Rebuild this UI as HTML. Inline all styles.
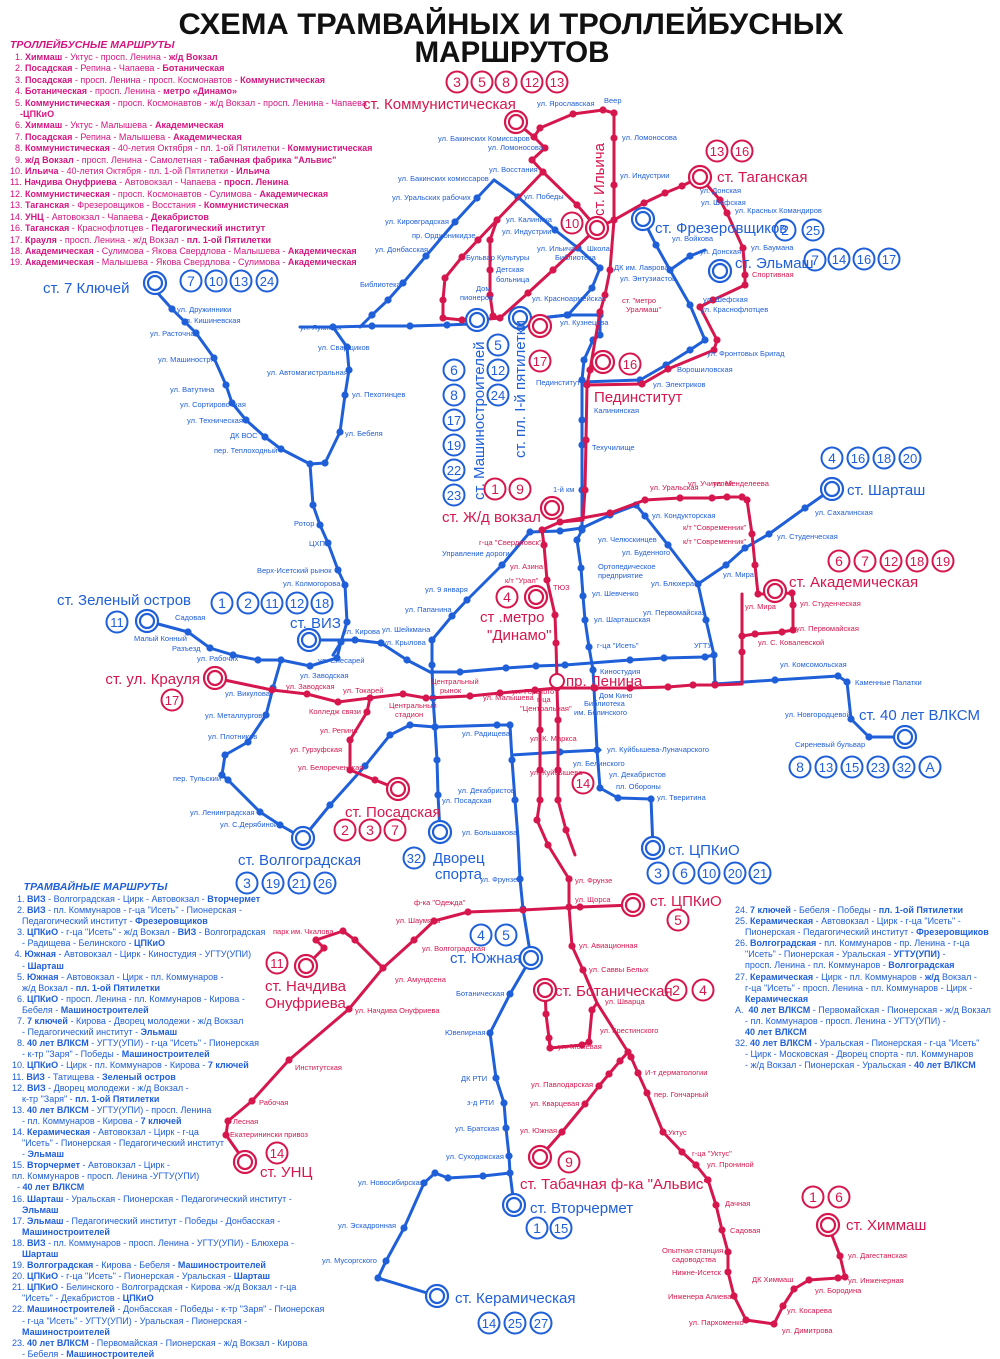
<!DOCTYPE html>
<html><head><meta charset="utf-8">
<style>
html,body{margin:0;padding:0;background:#fff;}
#w{position:relative;width:1000px;height:1359px;overflow:hidden;background:#fff;font-family:"Liberation Sans Narrow","Liberation Sans",sans-serif;}
.lg{position:absolute;font-size:9px;line-height:11.1px;white-space:nowrap;}
.lg b{font-weight:bold;}
.m{color:#d41580;left:10px;top:38px;line-height:11.4px;}
.bl{color:#1f5fd8;left:12px;top:880px;}
.br{color:#1f5fd8;left:735px;top:905px;}
.hd{font-style:italic;font-weight:bold;font-size:10.5px;line-height:14px;}
</style></head><body><div id="w">
<svg id="s" width="1000" height="1359" viewBox="0 0 1000 1359" xmlns="http://www.w3.org/2000/svg" style="position:absolute;left:0;top:0">
<text x="511" y="34" text-anchor="middle" font-family="Liberation Sans" font-weight="bold" font-size="30" textLength="665" lengthAdjust="spacingAndGlyphs" fill="#111">СХЕМА ТРАМВАЙНЫХ И ТРОЛЛЕЙБУСНЫХ</text>
<text x="512" y="62" text-anchor="middle" font-family="Liberation Sans" font-weight="bold" font-size="30" textLength="195" lengthAdjust="spacingAndGlyphs" fill="#111">МАРШРУТОВ</text>
</svg>
<div class="lg m">
<div class="hd">ТРОЛЛЕЙБУСНЫЕ МАРШРУТЫ</div>
<div>&nbsp;&nbsp;1. <b>Химмаш</b> - Уктус - просп. Ленина - <b>ж/д Вокзал</b></div>
<div>&nbsp;&nbsp;2. <b>Посадская</b> - Репина - Чапаева - <b>Ботаническая</b></div>
<div>&nbsp;&nbsp;3. <b>Посадская</b> - просп. Ленина - просп. Космонавтов - <b>Коммунистическая</b></div>
<div>&nbsp;&nbsp;4. <b>Ботаническая</b> - просп. Ленина - <b>метро «Динамо»</b></div>
<div>&nbsp;&nbsp;5. <b>Коммунистическая</b> - просп. Космонавтов - ж/д Вокзал - просп. Ленина - Чапаева</div>
<div>&nbsp;&nbsp;&nbsp;&nbsp;<b>-ЦПКиО</b></div>
<div>&nbsp;&nbsp;6. <b>Химмаш</b> - Уктус - Малышева - <b>Академическая</b></div>
<div>&nbsp;&nbsp;7. <b>Посадская</b> - Репина - Малышева - <b>Академическая</b></div>
<div>&nbsp;&nbsp;8. <b>Коммунистическая</b> - 40-летия Октября - пл. 1-ой Пятилетки - <b>Коммунистическая</b></div>
<div>&nbsp;&nbsp;9. <b>ж/д Вокзал</b> - просп. Ленина - Самолетная - <b>табачная фабрика "Альвис"</b></div>
<div>10. <b>Ильича</b> - 40-летия Октября - пл. 1-ой Пятилетки - <b>Ильича</b></div>
<div>11. <b>Начдива Онуфриева</b> - Автовокзал - Чапаева - <b>просп. Ленина</b></div>
<div>12. <b>Коммунистическая</b> - просп. Космонавтов - Сулимова - <b>Академическая</b></div>
<div>13. <b>Таганская</b> - Фрезеровщиков - Восстания - <b>Коммунистическая</b></div>
<div>14. <b>УНЦ</b> - Автовокзал - Чапаева - <b>Декабристов</b></div>
<div>16. <b>Таганская</b> - Краснофлотцев - <b>Педагогический институт</b></div>
<div>17. <b>Крауля</b> - просп. Ленина - ж/д Вокзал - <b>пл. 1-ой Пятилетки</b></div>
<div>18. <b>Академическая</b> - Сулимова - Якова Свердлова - Малышева - <b>Академическая</b></div>
<div>19. <b>Академическая</b> - Малышева - Якова Свердлова - Сулимова - <b>Академическая</b></div>
</div>
<div class="lg bl">
<div class="hd">&nbsp;&nbsp;&nbsp;&nbsp;ТРАМВАЙНЫЕ МАРШРУТЫ</div>
<div>&nbsp;&nbsp;1. <b>ВИЗ</b> - Волгоградская - Цирк - Автовокзал - <b>Вторчермет</b></div>
<div>&nbsp;&nbsp;2. <b>ВИЗ</b> - пл. Коммунаров - г-ца "Исеть" - Пионерская -</div>
<div>&nbsp;&nbsp;&nbsp;&nbsp;Педагогический институт - <b>Фрезеровщиков</b></div>
<div>&nbsp;&nbsp;3. <b>ЦПКиО</b> - г-ца "Исеть" - ж/д Вокзал - <b>ВИЗ</b> - Волгоградская</div>
<div>&nbsp;&nbsp;&nbsp;&nbsp;- Радищева - Белинского - <b>ЦПКиО</b></div>
<div>&nbsp;4. <b>Южная</b> - Автовокзал - Цирк - Киностудия - УГТУ(УПИ)</div>
<div>&nbsp;&nbsp;&nbsp;&nbsp;- <b>Шарташ</b></div>
<div>&nbsp;&nbsp;5. <b>Южная</b> - Автовокзал - Цирк - пл. Коммунаров -</div>
<div>&nbsp;&nbsp;&nbsp;&nbsp;ж/д Вокзал - <b>пл. 1-ой Пятилетки</b></div>
<div>&nbsp;&nbsp;6. <b>ЦПКиО</b> - просп. Ленина - пл. Коммунаров - Кирова -</div>
<div>&nbsp;&nbsp;&nbsp;&nbsp;Бебеля - <b>Машиностроителей</b></div>
<div>&nbsp;&nbsp;7. <b>7 ключей</b> - Кирова - Дворец молодежи - ж/д Вокзал</div>
<div>&nbsp;&nbsp;&nbsp;&nbsp;- Педагогический институт - <b>Эльмаш</b></div>
<div>&nbsp;&nbsp;8. <b>40 лет ВЛКСМ</b> - УГТУ(УПИ) - г-ца "Исеть" - Пионерская</div>
<div>&nbsp;&nbsp;&nbsp;&nbsp;- к-тр "Заря" - Победы - <b>Машиностроителей</b></div>
<div>10. <b>ЦПКиО</b> - Цирк - пл. Коммунаров - Кирова - <b>7 ключей</b></div>
<div>11. <b>ВИЗ</b> - Татищева - <b>Зеленый остров</b></div>
<div>12. <b>ВИЗ</b> - Дворец молодежи - ж/д Вокзал -</div>
<div>&nbsp;&nbsp;&nbsp;&nbsp;к-тр "Заря" - <b>пл. 1-ой Пятилетки</b></div>
<div>13. <b>40 лет ВЛКСМ</b> - УГТУ(УПИ) - просп. Ленина</div>
<div>&nbsp;&nbsp;&nbsp;&nbsp;- пл. Коммунаров - Кирова - <b>7 ключей</b></div>
<div>14. <b>Керамическая</b> - Автовокзал - Цирк - г-ца</div>
<div>&nbsp;&nbsp;&nbsp;&nbsp;"Исеть" - Пионерская - Педагогический институт</div>
<div>&nbsp;&nbsp;&nbsp;&nbsp;- <b>Эльмаш</b></div>
<div>15. <b>Вторчермет</b> - Автовокзал - Цирк -</div>
<div>пл. Коммунаров - просп. Ленина -УГТУ(УПИ)</div>
<div>&nbsp;&nbsp;- <b>40 лет ВЛКСМ</b></div>
<div>16. <b>Шарташ</b> - Уральская - Пионерская - Педагогический институт -</div>
<div>&nbsp;&nbsp;&nbsp;&nbsp;<b>Эльмаш</b></div>
<div>17. <b>Эльмаш</b> - Педагогический институт - Победы - Донбасская -</div>
<div>&nbsp;&nbsp;&nbsp;&nbsp;<b>Машиностроителей</b></div>
<div>18. <b>ВИЗ</b> - пл. Коммунаров - просп. Ленина - УГТУ(УПИ) - Блюхера -</div>
<div>&nbsp;&nbsp;&nbsp;&nbsp;<b>Шарташ</b></div>
<div>19. <b>Волгоградская</b> - Кирова - Бебеля - <b>Машиностроителей</b></div>
<div>20. <b>ЦПКиО</b> - г-ца "Исеть" - Пионерская - Уральская - <b>Шарташ</b></div>
<div>21. <b>ЦПКиО</b> - Белинского - Волгоградская - Кирова -ж/д Вокзал - г-ца</div>
<div>&nbsp;&nbsp;&nbsp;&nbsp;"Исеть" - Декабристов - <b>ЦПКиО</b></div>
<div>22. <b>Машиностроителей</b> - Донбасская - Победы - к-тр "Заря" - Пионерская</div>
<div>&nbsp;&nbsp;&nbsp;&nbsp;- г-ца "Исеть" - УГТУ(УПИ) - Уральская - Пионерская -</div>
<div>&nbsp;&nbsp;&nbsp;&nbsp;<b>Машиностроителей</b></div>
<div>23. <b>40 лет ВЛКСМ</b> - Первомайская - Пионерская - ж/д Вокзал - Кирова</div>
<div>&nbsp;&nbsp;&nbsp;&nbsp;- Бебеля - <b>Машиностроителей</b></div>
</div>
<div class="lg br">
<div>24. <b>7 ключей</b> - Бебеля - Победы - <b>пл. 1-ой Пятилетки</b></div>
<div>25. <b>Керамическая</b> - Автовокзал - Цирк - г-ца "Исеть" -</div>
<div>&nbsp;&nbsp;&nbsp;&nbsp;Пионерская - Педагогический институт - <b>Фрезеровщиков</b></div>
<div>26. <b>Волгоградская</b> - пл. Коммунаров - пр. Ленина - г-ца</div>
<div>&nbsp;&nbsp;&nbsp;&nbsp;"Исеть" - Пионерская - Уральская - <b>УГТУ(УПИ)</b> -</div>
<div>&nbsp;&nbsp;&nbsp;&nbsp;просп. Ленина - пл. Коммунаров - <b>Волгоградская</b></div>
<div>27. <b>Керамическая</b> - Цирк - пл. Коммунаров - <b>ж/д</b> Вокзал -</div>
<div>&nbsp;&nbsp;&nbsp;&nbsp;г-ца "Исеть" - просп. Ленина - пл. Коммунаров - Цирк -</div>
<div>&nbsp;&nbsp;&nbsp;&nbsp;<b>Керамическая</b></div>
<div>А.&nbsp;&nbsp;<b>40 лет ВЛКСМ</b> - Первомайская - Пионерская - ж/д Вокзал</div>
<div>&nbsp;&nbsp;&nbsp;&nbsp;- пл. Коммунаров - просп. Ленина - УГТУ(УПИ) -</div>
<div>&nbsp;&nbsp;&nbsp;&nbsp;<b>40 лет ВЛКСМ</b></div>
<div>32. <b>40 лет ВЛКСМ</b> - Уральская - Пионерская - г-ца "Исеть"</div>
<div>&nbsp;&nbsp;&nbsp;&nbsp;- Цирк - Московская - Дворец спорта - пл. Коммунаров</div>
<div>&nbsp;&nbsp;&nbsp;&nbsp;- ж/д Вокзал - Пионерская - Уральская - <b>40 лет ВЛКСМ</b></div>
</div>
</div>
<script>
(function(){
var B="#1f5fd8",R="#d6174e";
var s="";
function pl(c,p){var d="";for(var i=0;i<p.length;i+=2)d+=(i?" ":"")+p[i]+","+p[i+1];
 s+='<polyline points="'+d+'" fill="none" stroke="'+c+'" stroke-width="3" stroke-linejoin="round" stroke-linecap="round"/>';
 for(var i=2;i<p.length-2;i+=2)s+='<circle cx="'+p[i]+'" cy="'+p[i+1]+'" r="3.6" fill="'+c+'"/>';}
var blue=[
[155,290,172,309,185,322,196,333,214,358,226,385,232,403,246,420,265,437,281,449,310,464,313,505,320,525,328,543,338,570,345,585,347,622,341,642,333,655],
[310,464,325,463,340,432,345,395,349,370,347,347,333,327],
[300,327,333,327,372,326,410,326,447,325,470,324],
[494,180,477,198,455,222,426,256,403,283,388,300,372,315,360,327],
[494,180,518,197,555,230,578,248,600,268,592,288,568,315,540,318,520,318],
[540,318,567,315,600,315,600,335,593,340,584,360,582,380,582,420,582,445,582,490,582,530,577,540,581,568,583,596,585,620,589,647,593,670,594,688,597,750,600,788,618,798,651,799,653,848],
[643,219,656,245,670,270,690,305,705,340,690,350,666,365,640,380,582,382],
[670,270,690,256,705,250],
[832,489,805,508,769,534,745,548,726,565,698,584,668,545,645,516,636,505,610,515,582,528,560,531,530,532,502,565,467,600,452,616,432,640,432,665,433,698,435,727,437,760,438,795,440,832],
[698,584,706,620,714,655,715,684,775,680,838,676,847,682,851,719,869,737,905,737],
[433,672,460,672,506,668,536,666,565,665,630,660,664,658,705,657,714,655],
[309,640,355,640,381,643,407,660,432,673],
[147,621,188,632,210,648,233,655,258,660,281,660,310,666,337,658,341,642],
[281,660,273,688,266,715,248,742,225,755,222,775,228,780,260,812,280,825,303,838,330,805,365,766,390,735,410,725,435,727,497,725,510,725,512,760,515,800,518,838],
[518,838,520,879,523,909,531,958,510,994,490,1033,496,1078,504,1103,506,1128,509,1156,510,1173,514,1205],
[510,1173,483,1176,448,1178,435,1173,424,1183,404,1228,386,1261,378,1278,437,1296],
[512,755,560,752,600,750]
];
var red=[
[516,122,534,137,545,148,532,160,543,172,577,205,597,228],
[534,137,540,128,573,114,603,110,614,113,614,138,614,185,614,220,610,270,605,295,600,312,590,370,587,385,586,440,585,490,583,520],
[543,172,497,220,478,240,462,257,445,278,443,300,443,318,462,320,477,320],
[497,220,490,240,490,270,490,295,493,316,500,318],
[597,228,553,270,528,293,500,318,478,320],
[597,228,614,220,644,203,665,193,682,186,700,177,720,200,727,213,743,248,745,275,745,285,713,300,700,307,717,340,714,350,668,369,642,384,587,385],
[583,520,560,522,542,530,544,545,547,580,555,615,556,643,557,682],
[560,522,610,513,645,500,680,498,712,498,727,497,742,497,747,500,752,534,755,565,758,594,775,594,792,593,793,605,793,630,782,632,755,634,742,636],
[742,594,742,636,742,652,742,684],
[215,678,272,690,307,694,338,702,370,698,403,694,426,698,470,696,500,693,535,690,557,688,595,688,630,688,668,687,693,685,715,685,742,684],
[370,698,367,712,350,740,350,770,375,780,398,789],
[540,690,540,730,540,770,540,800,537,820,548,845,569,879,569,907,572,946,583,970,597,1003],
[557,688,558,720,558,770,558,800,566,830,575,855],
[633,905,580,907,523,910,468,912,434,921,414,940,383,968,349,1009,289,1060,252,1101,228,1121,226,1135,245,1162],
[383,968,355,940,343,931,316,940,324,948,306,966],
[597,1003,628,1052,631,1057,638,1073,647,1093,663,1132,682,1152,696,1165,708,1180,716,1205,722,1230,728,1252,728,1272,734,1296,746,1320,774,1324,783,1306,794,1289,809,1280,838,1278,845,1277,840,1256,828,1225],
[628,1052,620,1061,609,1074,599,1086,585,1104,562,1132,540,1157],
[545,990,546,1014,549,1038,550,1048,582,1045,589,1042,592,1010,597,1003]
];
blue.forEach(function(p){pl(B,p)});
red.forEach(function(p){pl(R,p)});
function ring(c,x,y,h){s+='<circle cx="'+x+'" cy="'+y+'" r="11" fill="#fff" stroke="'+c+'" stroke-width="2.2"/>'+(h?'':'<circle cx="'+x+'" cy="'+y+'" r="7" fill="#fff" stroke="'+c+'" stroke-width="2.2"/>');}
[[155,283],[147,621],[309,640],[303,838],[440,832],[653,848],[905,737],[832,489],[531,958],[514,1205],[437,1296],[477,320],[520,318],[643,219],[720,271]].forEach(function(a){ring(B,a[0],a[1])});
[[516,122],[597,228],[700,177],[603,362],[552,508],[536,597],[775,591],[215,678],[398,789],[545,990],[633,905],[306,966],[245,1162],[540,1157],[828,1225],[540,326]].forEach(function(a){ring(R,a[0],a[1])});
s+='<circle cx="557" cy="681" r="7" fill="#fff" stroke="'+R+'" stroke-width="2"/>';
function bd(c,x,y,t){s+='<circle cx="'+x+'" cy="'+y+'" r="10.5" fill="#fff" stroke="'+c+'" stroke-width="2"/><text x="'+x+'" y="'+(y+5)+'" text-anchor="middle" font-family="Liberation Sans Narrow,Liberation Sans" font-size="'+(t.length>1?13:14)+'" fill="'+c+'">'+t+'</text>';}
function row(c,y,xs,ts){for(var i=0;i<xs.length;i++)bd(c,xs[i],y,ts[i]);}
row(R,82,[457,482,506,532,557],["3","5","8","12","13"]);
row(R,151,[717,742],["13","16"]);
row(B,230,[785,813],["2","25"]);
bd(B,815,260,"7");
row(B,259,[839,864],["14","16"]); bd(B,889,259,"17");
row(B,281,[191,216,241,267],["7","10","13","24"]);
[["6",370],["8",395],["17",420],["19",445],["22",470],["23",495]].forEach(function(a){bd(B,454,a[1],a[0])});
[["5",345],["12",370],["24",395]].forEach(function(a){bd(B,498,a[1],a[0])});
bd(R,572,223,"10"); bd(R,540,361,"17"); bd(R,630,364,"16");
row(R,489,[495,520],["1","9"]);
row(B,458,[832,858,884,910],["4","16","18","20"]);
row(R,561,[839,865,891,917,943],["6","7","12","18","19"]);
bd(R,507,597,"4");
row(B,603,[222,248,272,297,322],["1","2","11","12","18"]);
bd(B,117,622,"11");
bd(R,172,700,"17");
row(R,830,[345,370,395],["2","3","7"]);
bd(R,583,783,"14");
row(B,767,[800,826,852,878,904,930],["8","13","15","23","32","A"]);
row(B,883,[247,273,299,325],["3","19","21","26"]);
bd(B,414,858,"32");
row(B,873,[658,684,709,735,760],["3","6","10","20","21"]);
bd(R,678,920,"5");
row(B,935,[481,506],["4","5"]);
bd(R,277,963,"11");
row(R,990,[676,703],["2","4"]);
bd(R,277,1153,"14");
bd(R,569,1162,"9");
row(B,1228,[537,561],["1","15"]);
row(B,1323,[489,515,541],["14","25","27"]);
row(R,1197,[813,839],["1","6"]);
function T(c,x,y,t,fs,a,rot){s+='<text x="'+x+'" y="'+y+'" font-family="Liberation Sans Narrow,Liberation Sans" font-size="'+fs+'" fill="'+c+'"'+(a?' text-anchor="'+a+'"':'')+(rot?' transform="rotate('+rot+' '+x+' '+y+')"':'')+'>'+t+'</text>';}
var BL=[["ст. 7 Ключей",43,293],["ст. Зеленый остров",57,605],["ст. ВИЗ",290,628],["ст. Волгоградская",238,865],["Дворец",433,863],["спорта",435,879],["ст. ЦПКиО",668,855],["ст. 40 лет ВЛКСМ",859,720],["ст. Шарташ",847,495],["ст. Южная",450,963],["ст. Вторчермет",530,1213],["ст. Керамическая",455,1303],["ст. Фрезеровщиков",655,233],["ст. Эльмаш",735,268]];
BL.forEach(function(a){T(B,a[1],a[2],a[0],15)});
T(B,484,500,"ст. Машиностроителей",15,null,-90);
T(B,525,458,"ст. пл. I-й пятилетки",15,null,-90);
var RL=[["ст. Коммунистическая",363,109],["ст. Таганская",717,182],["Пединститут",594,402],["ст. Ж/д вокзал",442,522],["ст .метро",480,622],["\"Динамо\"",487,640],["ст. Академическая",789,587],["ст. Посадская",345,817],["ст. Ботаническая",555,996],["ст. ЦПКиО",650,906],["ст. Начдива",265,991],["Онуфриева",265,1008],["ст. УНЦ",260,1177],["ст. Табачная ф-ка \"Альвис\"",520,1189],["ст. Химмаш",846,1230],["пр. Ленина",566,686]];
RL.forEach(function(a){T(R,a[1],a[2],a[0],15)});
T(R,200,684,"ст. ул. Крауля",15,"end");
T(R,604,216,"ст. Ильича",15,null,-90);
var sb=[["ул. Ярославская",537,106],["Веер",604,103],["ул. Ломоносова",622,140],["ул. Бакинских Комиссаров",438,141],["ул. Ломоносова",488,150],["ул. Восстания",489,172],["ул. Индустрии",620,178],["ул. Победы",524,199],["ул. Калинина",506,222],["ул. Индустрии",502,234],["пр. Орджоникидзе",412,238],["ул. Ильича",537,251],["Школа",587,251],["Бульвар Культуры",466,260],["Библиотека",555,260],["ДК им. Лаврова",614,270],["Детская",496,272],["больница",496,282],["ул. Энтузиастов",620,281],["Дом",476,291],["пионеров",460,300],["ул. Красноармейская",532,301],["ул. Кузнецова",560,325],["Пединститут",536,385],["Калининская",594,413],["Техучилище",592,450],["1-й км",553,492],["ул. Челюскинцев",598,542],["ул. Буденного",622,555],["Ортопедическое",598,569],["предприятие",598,578],["ул. Шевченко",592,596],["ул. Шарташская",594,622],["г-ца \"Исеть\"",597,648],["Киностудия",600,674],["Дом Кино",599,698],["Библиотека",584,706],["им. Белинского",574,715],["ул. Куйбышева-Луначарского",607,752],["ул. Белинского",573,766],["ул. Декабристов",609,777],["пл. Обороны",616,789],["ул. Тверитина",657,800],["ул. Сахалинская",815,515],["ул. Студенческая",777,539],["ул. Мира",723,577],["ул. Блюхера",651,586],["ул. Первомайская",643,615],["УГТУ",694,648],["ул. Комсомольская",780,667],["Каменные Палатки",855,685],["ул. Новгородцевой",785,717],["Сиреневый бульвар",795,747],["ул. Кондукторская",652,518],["Управление дороги",442,556],["ул. 9 января",425,592],["ул. Папанина",405,612],["Ротор",294,526],["ЦХП",309,546],["Верх-Исетский рынок",257,573],["ул. Колмогорова",283,586],["ул. Кирова",343,634],["ул. Шейкмана",382,632],["ул. Крылова",383,645],["ул. Слесарей",318,663],["ул. Заводская",300,678],["ул. Викулова",225,696],["ул. Металлургов",205,718],["ул. Плотников",208,739],["пер. Тульский",173,781],["ул. Ленинградская",190,815],["ул. С.Дерябиной",220,827],["ул. Радищева",462,736],["ул. Декабристов",458,793],["ул. Посадская",442,803],["ул. Большакова",462,835],["ул. Фрунзе",480,882],["Ботаническая",456,996],["Ювелирная",445,1035],["ДК РТИ",461,1081],["з-д РТИ",467,1105],["ул. Братская",455,1131],["ул. Суходожская",446,1159],["ул. Новосибирская",358,1185],["ул. Эскадронная",338,1228],["ул. Мусоргского",322,1263],["Садовая",175,620],["Малый Конный",134,641],["Разъезд",172,651],["ул. Рабочих",197,661],["Библиотека",360,287],["ул. Лукиных",300,330],["ул. Сварщиков",318,350],["ул. Автомагистральная",267,375],["ул. Пехотинцев",352,397],["ул. Бебеля",345,436],["ул. Дружинники",177,312],["ул. Кишиневская",182,323],["ул. Расточная",150,336],["ул. Машиностр.",158,362],["ул. Ватутина",170,392],["ул. Сортировочная",180,407],["ул. Техническая",187,423],["ДК ВОС",230,438],["пер. Теплоходный",214,453],["ул. Бакинских комиссаров",398,181],["ул. Уральских рабочих",392,200],["ул. Кировградская",385,224],["ул. Донбасская",375,252],["ул. Войкова",672,241],["ул. Донская",700,254],["ул. Красных Командиров",735,213],["ул. Шефская",701,205],["ул. Донская",700,193],["ул. Баумана",751,250],["ул. Шефская",703,302],["ул. Краснофлотцев",701,312],["ул. Фронтовых Бригад",707,356],["Ворошиловская",677,372],["ул. Электриков",653,387]];
sb.forEach(function(a){T(B,a[1],a[2],a[0],7.5)});
var sr=[["ул. Уральская",650,490],["ул. Учителей",688,486],["ул. Менделеева",713,486],["к/т \"Современник\"",683,530],["к/т \"Современник\"",683,544],["ул. Студенческая",800,606],["ул. Первомайская",796,631],["ул. С. Ковалевской",758,645],["ул. Мира",745,609],["г-ца \"Свердловск\"",479,545],["ул. Азина",510,569],["к/т \"Урал\"",505,583],["ТЮЗ",553,590],["Центральный",431,684],["рынок",440,693],["ул. Малышева",483,700],["ул. Горького",512,694],["г-ца",537,702],["\"Центральная\"",520,711],["ул. К. Маркса",530,741],["ул. Куйбышева",530,775],["ул. Заводская",286,689],["ул. Токарей",343,693],["Колледж связи",309,714],["Центральный",389,708],["стадион",395,717],["ул. Репина",320,733],["ул. Гурзуфская",290,752],["ул. Белореченская",298,770],["Спортивная",752,277],["ул. Шаумяна",396,923],["ф-ка \"Одежда\"",414,905],["парк им. Чкалова",273,934],["ул. Волгоградская",422,951],["ул. Амундсена",395,982],["ул. Начдива Онуфриева",355,1013],["Институтская",295,1070],["Рабочая",259,1105],["Лесная",233,1124],["Екатеринински привоз",230,1137],["ул. Фрунзе",575,883],["ул. Щорса",575,902],["ул. Авиационная",579,948],["ул. Саввы Белых",589,972],["ул. Шварца",605,1004],["ул. Крестинского",600,1033],["ул. Межевая",558,1049],["ул. Павлодарская",531,1087],["ул. Кварцевая",530,1106],["ул. Южная",520,1133],["И-т дерматологии",645,1075],["пер. Гончарный",654,1097],["Уктус",668,1135],["г-ца \"Уктус\"",692,1156],["ул. Прониной",707,1167],["Дачная",725,1206],["Садовая",730,1233],["Опытная станция",662,1253],["садоводства",672,1262],["Нижне-Исетск",672,1275],["ДК Химмаш",752,1282],["Инженера Алиева",668,1299],["ул. Пархоменко",689,1325],["ул. Димитрова",782,1333],["ул. Косарева",787,1313],["ул. Бородина",815,1293],["ул. Инженерная",848,1283],["ул. Дагестанская",848,1258],["ст. \"метро",622,303],["Уралмаш\"",626,312]];
sr.forEach(function(a){T(R,a[1],a[2],a[0],7.5)});
document.getElementById("s").insertAdjacentHTML("beforeend",s);
})();
</script>
</body></html>
